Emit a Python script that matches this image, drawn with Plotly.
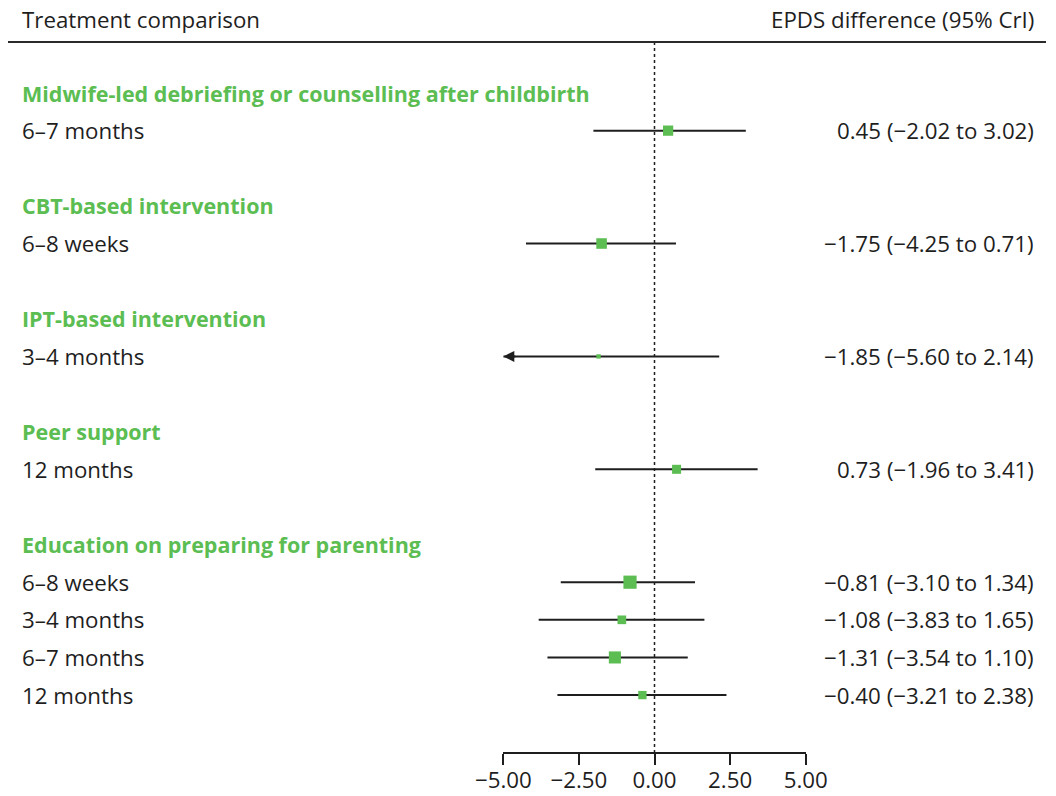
import plotly.graph_objects as go

# ---------------- data ----------------
groups = [
    "Midwife-led debriefing or counselling after childbirth",
    "CBT-based intervention",
    "IPT-based intervention",
    "Peer support",
    "Education on preparing for parenting",
]
row_group = [0, 1, 2, 3, 4, 4, 4, 4]
timepoints = ["6–7 months", "6–8 weeks", "3–4 months", "12 months",
              "6–8 weeks", "3–4 months", "6–7 months", "12 months"]
estimate = [0.45, -1.75, -1.85, 0.73, -0.81, -1.08, -1.31, -0.40]
lower = [-2.02, -4.25, -5.60, -1.96, -3.10, -3.83, -3.54, -3.21]
upper = [3.02, 0.71, 2.14, 3.41, 1.34, 1.65, 1.10, 2.38]
x_ticks = [-5.0, -2.5, 0.0, 2.5, 5.0]
header_left = "Treatment comparison"
header_right = "EPDS difference (95% CrI)"

# ---------------- style ----------------
W, H = 1056, 796
GREEN = "#5BBD52"
DARK = "#1e1e1e"
FONT = "Open Sans"
FS = 22.3
FS_BOLD = 21.5
X_MIN, X_MAX = -5, 5

# layout in pixels
axis_px = 752
MB = H - axis_px
x_dom = [503.3 / W, 805.7 / W]
row_px = 37.63
first_px = 93.0
y_bottom_slot = (axis_px - first_px) / row_px
y_top_slot = -first_px / row_px


def py(px):
    """pixel row (from top) -> paper y (plot area spans 0..axis_px)"""
    return 1 - px / axis_px


def fmt(v):
    return f"{v:.2f}".replace("-", "\u2212")


# assign slots
slots_group = []
slots_row = []
slot = 0
prev = None
for i, g in enumerate(row_group):
    if g != prev:
        if prev is not None:
            slot += 1  # blank spacer
        slots_group.append(slot)
        slot += 1
        prev = g
    slots_row.append(slot)
    slot += 1

fig = go.Figure()

# CI lines
for i in range(len(estimate)):
    lo = max(lower[i], X_MIN)
    hi = min(upper[i], X_MAX)
    fig.add_trace(go.Scatter(x=[lo, hi], y=[slots_row[i]] * 2, mode="lines",
                             line=dict(color=DARK, width=2), hoverinfo="skip",
                             showlegend=False))
    if lower[i] < X_MIN:
        fig.add_annotation(x=X_MIN, y=slots_row[i], ax=X_MIN + 0.45, ay=slots_row[i],
                           xref="x", yref="y", axref="x", ayref="y", text="",
                           showarrow=True, arrowhead=2, arrowsize=1.1,
                           arrowwidth=2, arrowcolor=DARK)

# box sizes from precision (inverse squared CI width)
sizes = [max(3.5, 260 / (u - l) ** 2) for l, u in zip(lower, upper)]
fig.add_trace(go.Scatter(x=estimate, y=slots_row, mode="markers",
                         marker=dict(symbol="square", size=sizes, color=GREEN,
                                     opacity=1, line=dict(width=0)),
                         showlegend=False, hoverinfo="skip"))

# dotted reference line
fig.add_shape(type="line", xref="x", yref="paper", x0=0, x1=0,
              y0=py(42), y1=0,
              line=dict(color=DARK, width=1.5, dash="dot"), layer="below")

# header line
fig.add_shape(type="line", xref="paper", yref="paper", x0=8 / W, x1=1046 / W,
              y0=py(42), y1=py(42), line=dict(color="#2a2a2a", width=2))

# header texts
fig.add_annotation(x=20 / W, y=py(20), xref="paper", yref="paper",
                   text=header_left, showarrow=False, xanchor="left", yanchor="middle",
                   font=dict(family=FONT, size=FS, color=DARK))
fig.add_annotation(x=1036 / W, y=py(20), xref="paper", yref="paper",
                   text=header_right, showarrow=False, xanchor="right", yanchor="middle",
                   font=dict(family=FONT, size=FS, color=DARK))

# group labels
for g, s in zip(groups, slots_group):
    fig.add_annotation(x=20 / W, y=s, xref="paper", yref="y", text=f"<b>{g}</b>",
                       showarrow=False, xanchor="left", yanchor="middle",
                       font=dict(family=FONT, size=FS_BOLD, color=GREEN))

# row labels and values
for i, s in enumerate(slots_row):
    fig.add_annotation(x=20 / W, y=s, xref="paper", yref="y", text=timepoints[i],
                       showarrow=False, xanchor="left", yanchor="middle",
                       font=dict(family=FONT, size=FS, color=DARK))
    txt = f"{fmt(estimate[i])} ({fmt(lower[i])} to {fmt(upper[i])})"
    fig.add_annotation(x=1036 / W, y=s, xref="paper", yref="y", text=txt,
                       showarrow=False, xanchor="right", yanchor="middle",
                       font=dict(family=FONT, size=FS, color=DARK))

fig.update_layout(
    width=W, height=H, autosize=False,
    margin=dict(l=0, r=0, t=0, b=MB, pad=0, autoexpand=False),
    paper_bgcolor="white", plot_bgcolor="white",
    xaxis=dict(domain=x_dom, range=[X_MIN, X_MAX], tickvals=x_ticks,
               tickformat=".2f", showgrid=False, zeroline=False, automargin=False,
               showline=True, linecolor=DARK, linewidth=1.5,
               ticks="outside", ticklen=11, tickwidth=1.5, tickcolor=DARK,
               ticklabelstandoff=-4,
               tickfont=dict(family=FONT, size=FS, color=DARK), fixedrange=True),
    yaxis=dict(domain=[0, 1], range=[y_bottom_slot, y_top_slot],
               visible=False, showgrid=False, zeroline=False, automargin=False,
               fixedrange=True),
    showlegend=False,
)

fig.write_html("out.html", config={"displayModeBar": False},
               post_script="document.body.style.margin='0';")
